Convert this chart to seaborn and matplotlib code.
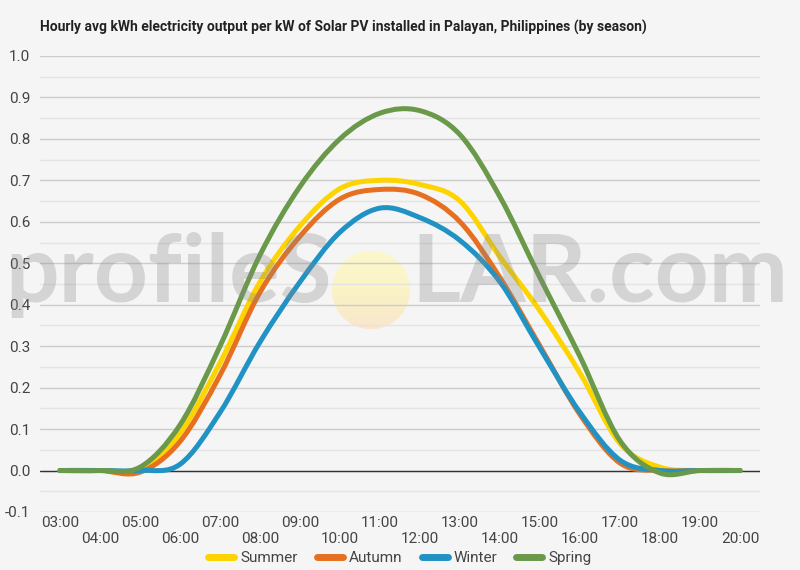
import numpy as np
import pandas as pd
import matplotlib
matplotlib.use("Agg")
import matplotlib.pyplot as plt
import seaborn as sns
from matplotlib.path import Path
from matplotlib.patches import PathPatch, Circle
from matplotlib.lines import Line2D

# Data
hours = ["03:00", "04:00", "05:00", "06:00", "07:00", "08:00", "09:00", "10:00", "11:00",
         "12:00", "13:00", "14:00", "15:00", "16:00", "17:00", "18:00", "19:00", "20:00"]
summer = [0, 0, 0.003, 0.09, 0.26, 0.455, 0.59, 0.68, 0.70, 0.69, 0.65, 0.515, 0.385, 0.235, 0.065, 0.008, 0, 0]
autumn = [0, 0, -0.004, 0.07, 0.23, 0.43, 0.565, 0.655, 0.678, 0.666, 0.60, 0.465, 0.30, 0.135, 0.018, 0, 0, 0]
winter = [0, 0, 0, 0.015, 0.14, 0.31, 0.455, 0.575, 0.633, 0.61, 0.555, 0.455, 0.295, 0.14, 0.025, 0, 0, 0]
spring = [0, 0, 0.008, 0.11, 0.30, 0.52, 0.685, 0.80, 0.862, 0.868, 0.81, 0.66, 0.465, 0.275, 0.072, -0.006, 0, 0]

seasons = ["Summer", "Autumn", "Winter", "Spring"]
colors = ["#fdd400", "#e6701f", "#2192c4", "#6a994a"]

df = pd.DataFrame({"hour": hours, "Summer": summer, "Autumn": autumn,
                   "Winter": winter, "Spring": spring})

sns.set_theme(style="white")
plt.rcParams["font.family"] = ["Roboto", "DejaVu Sans"]

BG = "#f5f5f5"
fig = plt.figure(figsize=(8, 5.7), dpi=100, facecolor=BG)
ax = fig.add_axes([0.05, 0.1018, 0.9, 0.8])
ax.set_facecolor("none")


# Smooth curve through the data points (cubic Bezier, Catmull-Rom control points)
def smooth_path(xs, ys):
    pts = np.column_stack([xs, ys]).astype(float)
    verts = [pts[0]]
    codes = [Path.MOVETO]
    n = len(pts)
    for i in range(n - 1):
        p0 = pts[i - 1] if i > 0 else pts[i]
        p1, p2 = pts[i], pts[i + 1]
        p3 = pts[i + 2] if i + 2 < n else pts[i + 1]
        verts += [p1 + (p2 - p0) / 6, p2 - (p3 - p1) / 6, p2]
        codes += [Path.CURVE4] * 3
    return Path(verts, codes)


x = np.arange(len(hours))
for name, col in zip(seasons, colors):
    patch = PathPatch(smooth_path(x, df[name].values), facecolor="none", edgecolor=col,
                      lw=3.6, capstyle="round", joinstyle="round", zorder=3)
    ax.add_patch(patch)

ax.set_xlim(-0.5, 17.5)
ax.set_ylim(-0.1, 1.0)

yt = np.round(np.arange(-0.1, 1.01, 0.1), 1)
ax.set_yticks(yt)
ax.set_yticklabels([f"{v:.1f}" for v in yt])
ax.set_yticks(np.round(np.arange(-0.05, 1.0, 0.1), 2), minor=True)
ax.grid(axis="y", which="major", color="#cccccc", lw=1)
ax.grid(axis="y", which="minor", color="#e4e4e4", lw=1)
ax.grid(axis="x", visible=False)
ax.axhline(0, color="#333333", lw=1, zorder=2)

ax.set_xticks(x)
ax.set_xticklabels([h if i % 2 == 0 else "\n" + h for i, h in enumerate(hours)])
ax.tick_params(axis="both", length=0, labelsize=11, colors="#444444")
ax.tick_params(axis="y", pad=7)
ax.tick_params(axis="x", pad=3)
ax.tick_params(which="minor", length=0)
for s in ax.spines.values():
    s.set_visible(False)

fig.text(0.05, 0.951, "Hourly avg kWh electricity output per kW of Solar PV installed in Palayan, Philippines (by season)",
         fontsize=10, fontweight="bold", color="#222222", va="center", ha="left")

handles = [Line2D([], [], color=c, lw=5) for c in colors]
fig.legend(handles, seasons, loc="center", bbox_to_anchor=(0.5, 0.021), ncol=4, frameon=False,
           fontsize=11, handlelength=1.7, handletextpad=0.4, columnspacing=1.25,
           labelcolor="#444444")

# Watermark
sun_ax = fig.add_axes([331 / 800, (570 - 330) / 570, 80 / 800, 80 / 570], zorder=-1)
grad = np.linspace(0, 1, 100)[:, None] * np.ones((1, 10))
cmap = matplotlib.colors.LinearSegmentedColormap.from_list("sun", ["#fcf8cc", "#fbf3c6", "#f9e6cd"])
img = sun_ax.imshow(grad, cmap=cmap, extent=[0, 1, 0, 1], aspect="auto", origin="upper")
circ = Circle((0.5, 0.5), 0.49, transform=sun_ax.transAxes)
img.set_clip_path(circ)
sun_ax.axis("off")

wm = dict(fontsize=68, fontweight="bold", color="#888888", alpha=0.3, family="Lato")
fig.text(332 / 800, 1 - 302 / 570, "profileS", ha="right", va="baseline", **wm)
fig.text(411 / 800, 1 - 302 / 570, "LAR.com", ha="left", va="baseline", **wm)

fig.savefig("out.png", dpi=100, facecolor=BG)
